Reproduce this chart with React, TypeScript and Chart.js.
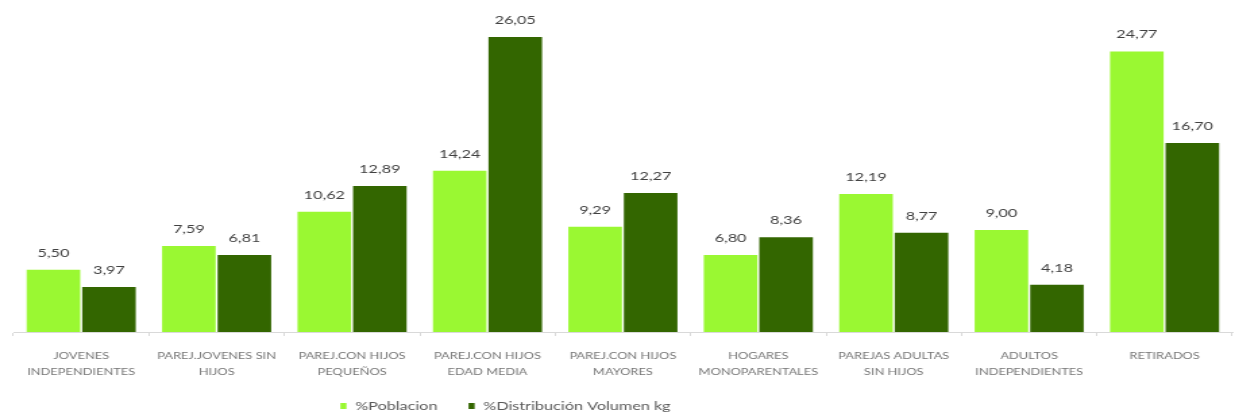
import React, { useEffect, useRef } from "react";
import { Chart, registerables } from "chart.js";

Chart.register(...registerables);

// ---- data ----
const categories: string[][] = [
  ["JOVENES", "INDEPENDIENTES"],
  ["PAREJ.JOVENES SIN", "HIJOS"],
  ["PAREJ.CON HIJOS", "PEQUEÑOS"],
  ["PAREJ.CON HIJOS", "EDAD MEDIA"],
  ["PAREJ.CON HIJOS", "MAYORES"],
  ["HOGARES", "MONOPARENTALES"],
  ["PAREJAS ADULTAS", "SIN HIJOS"],
  ["ADULTOS", "INDEPENDIENTES"],
  ["RETIRADOS"],
];
const seriesNames = ["%Poblacion", "%Distribución Volumen kg"];
const poblacion = [5.5, 7.59, 10.62, 14.24, 9.29, 6.8, 12.19, 9.0, 24.77];
const volumen = [3.97, 6.81, 12.89, 26.05, 12.27, 8.36, 8.77, 4.18, 16.7];
const colors = ["#9AF832", "#336600"];

// ---- layout (the original picture is horizontally stretched) ----
const OUT_W = 1235;
const OUT_H = 420;
const STRETCH = 1.35;
const INNER_W = Math.round(OUT_W / STRETCH);

const fmt = (v: number) => v.toFixed(2).replace(".", ",");

const valueLabels = {
  id: "valueLabels",
  afterDatasetsDraw(chart: any) {
    const ctx = chart.ctx;
    ctx.save();
    ctx.font = "12px Lato";
    ctx.fillStyle = "#404040";
    ctx.textAlign = "center";
    ctx.textBaseline = "middle";
    chart.data.datasets.forEach((ds: any, i: number) => {
      const meta = chart.getDatasetMeta(i);
      meta.data.forEach((bar: any, j: number) => {
        ctx.fillText(fmt(ds.data[j]), bar.x, bar.y - 17);
      });
    });
    ctx.restore();
  },
};

const customLegend = {
  id: "customLegend",
  afterDraw(chart: any) {
    const ctx = chart.ctx;
    ctx.save();
    ctx.font = "12px Lato";
    ctx.textBaseline = "middle";
    ctx.textAlign = "left";
    const boxW = 4.5;
    const boxH = 6;
    const boxGap = 6.5;
    const itemGap = 23;
    const items = chart.data.datasets.map((ds: any) => ({
      text: ds.label as string,
      color: ds.backgroundColor as string,
      w: ctx.measureText(ds.label).width,
    }));
    const total =
      items.reduce((a: number, it: any) => a + boxW + boxGap + it.w, 0) +
      itemGap * (items.length - 1);
    let x = chart.width / 2 - 83 - total / 2;
    const y = 406;
    items.forEach((it: any) => {
      ctx.fillStyle = it.color;
      ctx.fillRect(x, y - boxH / 2, boxW, boxH);
      x += boxW + boxGap;
      ctx.fillStyle = "#595959";
      ctx.fillText(it.text, x, y);
      x += it.w + itemGap;
    });
    ctx.restore();
  },
};

export default function App() {
  const ref = useRef<HTMLCanvasElement>(null);

  useEffect(() => {
    const canvas = ref.current;
    if (!canvas) return;
    const chart = new Chart(canvas, {
      type: "bar",
      data: {
        labels: categories,
        datasets: [
          {
            label: seriesNames[0],
            data: poblacion,
            backgroundColor: colors[0],
            categoryPercentage: 0.82,
            barPercentage: 0.965,
          },
          {
            label: seriesNames[1],
            data: volumen,
            backgroundColor: colors[1],
            categoryPercentage: 0.82,
            barPercentage: 0.965,
          },
        ],
      },
      options: {
        responsive: false,
        animation: false,
        devicePixelRatio: 1,
        layout: { padding: { left: 10, right: 2, top: 15, bottom: 0 } },
        plugins: {
          legend: { display: false },
          tooltip: { enabled: false },
        },
        scales: {
          x: {
            grid: {
              display: true,
              offset: true,
              drawOnChartArea: false,
              drawTicks: true,
              tickLength: 4,
              color: "#d9d9d9",
            },
            border: { display: true, color: "#d9d9d9", width: 1 },
            ticks: {
              color: "#757575",
              font: { family: "Lato", size: 9.5, lineHeight: "16px" },
              padding: 12,
              maxRotation: 0,
              autoSkip: false,
            },
            afterFit: (scale: any) => {
              scale.height = 88;
            },
          },
          y: { display: false, min: 0, max: 28 },
        },
      },
      plugins: [valueLabels, customLegend],
    } as any);
    return () => chart.destroy();
  }, []);

  return (
    <div
      style={{
        position: "fixed",
        left: 0,
        top: 0,
        width: OUT_W,
        height: OUT_H,
        background: "#ffffff",
      }}
    >
      <canvas
        ref={ref}
        width={INNER_W}
        height={OUT_H}
        style={{ width: OUT_W + "px", height: OUT_H + "px", display: "block" }}
      />
    </div>
  );
}
